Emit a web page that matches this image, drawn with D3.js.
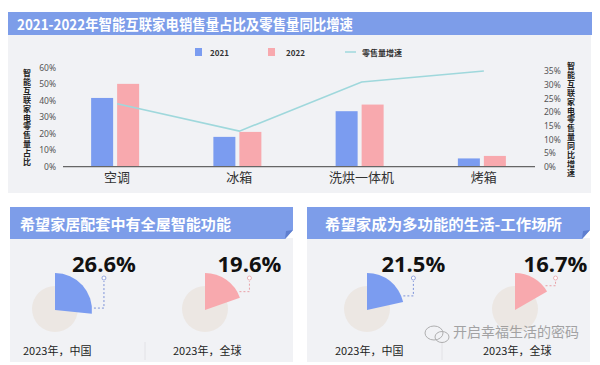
<!DOCTYPE html>
<html><head><meta charset="utf-8">
<script src="https://cdn.jsdelivr.net/npm/d3@7"></script>
<style>
html,body{margin:0;padding:0;background:#fff;}
svg{display:block;font-family:"Noto Sans CJK SC","Noto Sans",sans-serif;}
.vt{writing-mode:vertical-rl;text-orientation:upright;}
</style></head>
<body>
<script>
// ---- data ----
const title = "2021-2022年智能互联家电销售量占比及零售量同比增速";
const categories = ["空调", "冰箱", "洗烘一体机", "烤箱"];
const share2021 = [41.5, 18, 33.5, 5];
const share2022 = [50, 21, 37.5, 6.5];
const growth = [23, 13, 31, 35];
const leftTicks = [0, 10, 20, 30, 40, 50, 60];
const rightTicks = [0, 5, 10, 15, 20, 25, 30, 35];
const seriesNames = ["2021", "2022", "零售量增速"];
const leftAxisTitle = "智能互联家电零售量占比";
const rightAxisTitle = "智能互联家电零售量同比增速";

const panelTitles = ["希望家居配套中有全屋智能功能", "希望家成为多功能的生活-工作场所"];
const pieValues = [26.6, 19.6, 21.5, 16.7];
const pieLabels = ["2023年，中国", "2023年，全球", "2023年，中国", "2023年，全球"];
const pieSeries = [0, 1, 0, 1];
const watermark = "开启幸福生活的密码";

const BLUE = "#7b9cf0", PINK = "#f8a9ae", TEAL = "#9fd8dc", BAR = "#7d9de9";

const W = 600, H = 365;
const svg = d3.select("body").append("svg").attr("width", W).attr("height", H);

// ---- top panel ----
svg.append("rect").attr("x", 8).attr("y", 34).attr("width", 583).attr("height", 159).attr("fill", "#f1f2f5");
svg.append("rect").attr("x", 8).attr("y", 12).attr("width", 584).attr("height", 23).attr("fill", BAR);
svg.append("text").attr("x", 17).attr("y", 29.5).attr("fill", "#fff").attr("font-size", 14.5)
  .attr("font-weight", "bold").attr("textLength", 336).attr("lengthAdjust", "spacingAndGlyphs").text(title);

const x = d3.scaleBand().domain(categories).range([54, 543]);
const yL = d3.scaleLinear().domain([0, 60]).range([166.7, 67.3]);
const yR = d3.scaleLinear().domain([0, 35]).range([166.7, 71]);
const bw = 22, gap = 4;

const g = svg.append("g");
[share2021, share2022].forEach((vals, si) => {
  g.selectAll(null).data(vals).enter().append("rect")
    .attr("x", (d, i) => x(categories[i]) + x.bandwidth() / 2 - bw - gap / 2 + si * (bw + gap))
    .attr("y", d => yL(d)).attr("width", bw).attr("height", d => yL(0) - yL(d))
    .attr("fill", si ? PINK : BLUE);
});
g.append("line").attr("x1", 63).attr("x2", 535).attr("y1", yL(0)).attr("y2", yL(0))
  .attr("stroke", "#666").attr("stroke-width", 1.2);
g.append("path").datum(growth)
  .attr("d", d3.line().x((d, i) => x(categories[i]) + x.bandwidth() / 2 + 2).y(d => yR(d)))
  .attr("fill", "none").attr("stroke", TEAL).attr("stroke-width", 1.6);

const la = svg.append("g").attr("transform", "translate(56,0)")
  .call(d3.axisLeft(yL).tickValues(leftTicks).tickFormat(d => d + "%").tickSize(0).tickPadding(0));
la.select(".domain").remove();
la.selectAll("text").attr("font-size", 8.5).attr("fill", "#555").attr("font-family", "'Noto Sans','Open Sans',sans-serif");
const ra = svg.append("g").attr("transform", "translate(544,0)")
  .call(d3.axisRight(yR).tickValues(rightTicks).tickFormat(d => d + "%").tickSize(0).tickPadding(0));
ra.select(".domain").remove();
ra.selectAll("text").attr("font-size", 8.5).attr("fill", "#555").attr("font-family", "'Noto Sans','Open Sans',sans-serif");

svg.append("g").selectAll("text").data(categories).enter().append("text")
  .attr("x", d => x(d) + x.bandwidth() / 2 + 2).attr("y", 182).attr("text-anchor", "middle")
  .attr("font-size", 13).attr("fill", "#333").text(d => d);

svg.append("text").attr("class", "vt").attr("x", 27).attr("y", 69)
  .attr("font-size", 8).attr("font-weight", "bold").attr("fill", "#222")
  .attr("letter-spacing", 0.9).text(leftAxisTitle);
svg.append("text").attr("class", "vt").attr("x", 571).attr("y", 62)
  .attr("font-size", 8).attr("font-weight", "bold").attr("fill", "#222")
  .attr("letter-spacing", 0.9).text(rightAxisTitle);

const lg = svg.append("g");
lg.append("rect").attr("x", 195).attr("y", 48).attr("width", 7).attr("height", 8).attr("fill", BLUE);
lg.append("text").attr("x", 210).attr("y", 55.5).attr("font-size", 8).attr("font-weight", "bold").attr("fill", "#333").text(seriesNames[0]);
lg.append("rect").attr("x", 268).attr("y", 48).attr("width", 7).attr("height", 8).attr("fill", PINK);
lg.append("text").attr("x", 286).attr("y", 55.5).attr("font-size", 8).attr("font-weight", "bold").attr("fill", "#333").text(seriesNames[1]);
lg.append("line").attr("x1", 345).attr("x2", 356).attr("y1", 52).attr("y2", 52).attr("stroke", TEAL).attr("stroke-width", 1.5);
lg.append("text").attr("x", 362).attr("y", 55.5).attr("font-size", 8).attr("font-weight", "bold").attr("fill", "#333").text(seriesNames[2]);

// ---- bottom panels ----
const panelX = [10, 307], panelW = 283;
const titleX = [20, 325], titleLen = [211, 237];
panelTitles.forEach((t, p) => {
  const px = panelX[p];
  svg.append("rect").attr("x", px).attr("y", 238).attr("width", panelW).attr("height", 124).attr("fill", "#f1f2f5");
  const y0 = 207, y1 = 239, r = px + panelW;
  svg.append("path").attr("d", `M${px},${y0}H${r}V${y1 - 9}L${r - 8},${y1}H${px}Z`).attr("fill", BAR);
  svg.append("path").attr("d", `M${r},${y1 - 9}L${r - 8},${y1}L${r - 7},${y1 - 8}Z`).attr("fill", "#5f7fcf");
  svg.append("text").attr("x", titleX[p]).attr("y", 230).attr("fill", "#fff").attr("font-size", 15)
    .attr("font-weight", "bold").attr("textLength", titleLen[p]).attr("lengthAdjust", "spacingAndGlyphs").text(t);
  svg.append("line").attr("x1", px + 135).attr("x2", px + 135).attr("y1", 342).attr("y2", 360)
    .attr("stroke", "#e2e2e6").attr("stroke-width", 1);
});

const pieCx = d3.scaleOrdinal().domain([0, 1, 2, 3]).range([55, 205, 367, 515]);
const pieCy = 310, R = 37, r0 = 23;
const arc = d3.arc().innerRadius(0).outerRadius(R).startAngle(0);
pieValues.forEach((v, i) => {
  const cx = pieCx(i), col = pieSeries[i] ? PINK : BLUE;
  const lc = pieSeries[i] ? "#e8a0a6" : "#7d93d8";
  const gg = svg.append("g").attr("transform", `translate(${cx},${pieCy})`);
  gg.append("circle").attr("r", r0).attr("cy", -1).attr("fill", "#ece7e3");
  const end = v / 100 * 2 * Math.PI;
  gg.append("path").attr("d", arc({ endAngle: end })).attr("fill", col);
  const a = end - 0.15;
  const px0 = Math.sin(a) * (R + 2), py0 = -Math.cos(a) * (R + 2);
  const lx = px0 + 10, ly = -32;
  gg.append("path").attr("d", `M${px0},${py0}H${lx}V${ly + 3}`).attr("fill", "none")
    .attr("stroke", lc).attr("stroke-width", 1).attr("stroke-dasharray", "2,2");
  gg.append("circle").attr("cx", lx).attr("cy", ly).attr("r", 2).attr("fill", "#fff")
    .attr("stroke", lc).attr("stroke-width", 0.8);
  gg.append("text").attr("x", lx).attr("y", -38).attr("text-anchor", "middle")
    .attr("font-size", 22).attr("font-weight", "bold").attr("fill", "#111")
    .attr("font-family", "'Open Sans','Noto Sans',sans-serif").text(v.toFixed(1) + "%");
  svg.append("text").attr("x", cx - 32).attr("y", 355).attr("font-size", 11).attr("fill", "#222")
    .text(pieLabels[i]);
});

// watermark
const wm = svg.append("g").attr("opacity", 0.75);
wm.append("ellipse").attr("cx", 434).attr("cy", 333).attr("rx", 9).attr("ry", 7).attr("fill", "none").attr("stroke", "#999").attr("stroke-width", 1);
wm.append("ellipse").attr("cx", 442).attr("cy", 337).attr("rx", 7).attr("ry", 5.5).attr("fill", "none").attr("stroke", "#999").attr("stroke-width", 1);
wm.append("text").attr("x", 453).attr("y", 337).attr("font-size", 14).attr("fill", "#888").text(watermark);
</script>
</body></html>
